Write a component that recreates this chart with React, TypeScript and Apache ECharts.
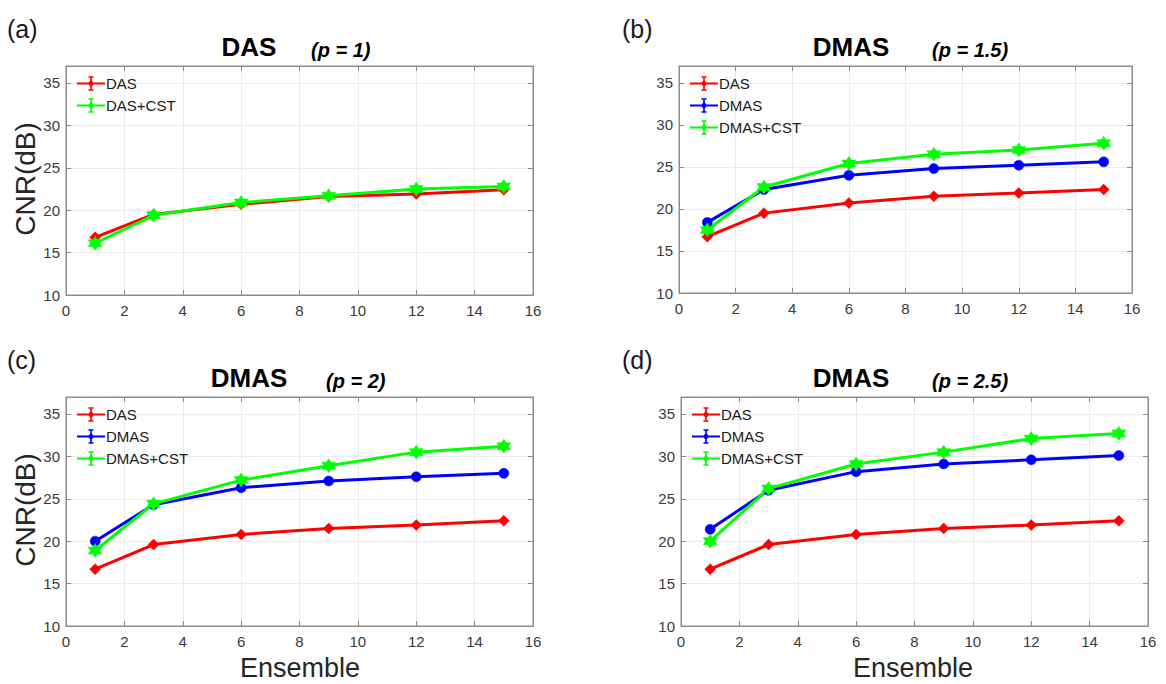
import React, { useEffect, useRef } from "react";
import * as echarts from "echarts";

const ensemble = [1, 3, 6, 9, 12, 15];

const dasA = [16.8, 19.5, 20.7, 21.6, 21.9, 22.4];
const dasCstA = [16.1, 19.4, 20.9, 21.7, 22.5, 22.8];

const dasB = [16.7, 19.5, 20.7, 21.5, 21.9, 22.3];
const dmasB = [18.4, 22.3, 24.0, 24.8, 25.2, 25.6];
const dmasCstB = [17.5, 22.6, 25.4, 26.5, 27.0, 27.8];

const dasC = [16.7, 19.6, 20.8, 21.5, 21.9, 22.4];
const dmasC = [20.0, 24.3, 26.3, 27.1, 27.6, 28.0];
const dmasCstC = [18.9, 24.4, 27.2, 28.9, 30.5, 31.2];

const dasD = [16.7, 19.6, 20.8, 21.5, 21.9, 22.4];
const dmasD = [21.4, 26.0, 28.2, 29.1, 29.6, 30.1];
const dmasCstD = [20.0, 26.2, 29.1, 30.5, 32.1, 32.7];

const panelLabels = ["(a)", "(b)", "(c)", "(d)"];
const methodTitles = ["DAS", "DMAS", "DMAS", "DMAS"];
const pTitles = ["(p = 1)", "(p = 1.5)", "(p = 2)", "(p = 2.5)"];
const yAxisName = "CNR(dB)";
const xAxisName = "Ensemble";

const FONT = "'Liberation Sans', Arial, Helvetica, sans-serif";

const ICON =
  "path://M0,6.8 H30 V9.2 H0 Z M14.1,1 H15.9 V15 H14.1 Z M12.3,0.2 H17.7 V1.8 H12.3 Z M12.3,14.2 H17.7 V15.8 H12.3 Z M15,4 L18.5,8 L15,12 L11.5,8 Z";
const HEX = "path://M0,-10 L8.66,5 L-8.66,5 Z M0,10 L-8.66,-5 L8.66,-5 Z";

const RED = "#ff0000";
const BLUE = "#0000ff";
const GREEN = "#00ff00";

type Panel = {
  grid: { left: number; top: number; width: number; height: number };
  series: { name: string; data: number[]; color: string; symbol: string; size: number }[];
};

const panels: Panel[] = [
  {
    grid: { left: 66, top: 66, width: 467, height: 229 },
    series: [
      { name: "DAS", data: dasA, color: RED, symbol: "diamond", size: 11 },
      { name: "DAS+CST", data: dasCstA, color: GREEN, symbol: HEX, size: 14 },
    ],
  },
  {
    grid: { left: 679, top: 66, width: 453, height: 227 },
    series: [
      { name: "DAS", data: dasB, color: RED, symbol: "diamond", size: 11 },
      { name: "DMAS", data: dmasB, color: BLUE, symbol: "circle", size: 10 },
      { name: "DMAS+CST", data: dmasCstB, color: GREEN, symbol: HEX, size: 14 },
    ],
  },
  {
    grid: { left: 66, top: 397, width: 467, height: 229 },
    series: [
      { name: "DAS", data: dasC, color: RED, symbol: "diamond", size: 11 },
      { name: "DMAS", data: dmasC, color: BLUE, symbol: "circle", size: 10 },
      { name: "DMAS+CST", data: dmasCstC, color: GREEN, symbol: HEX, size: 14 },
    ],
  },
  {
    grid: { left: 681, top: 397, width: 467, height: 229 },
    series: [
      { name: "DAS", data: dasD, color: RED, symbol: "diamond", size: 11 },
      { name: "DMAS", data: dmasD, color: BLUE, symbol: "circle", size: 10 },
      { name: "DMAS+CST", data: dmasCstD, color: GREEN, symbol: HEX, size: 14 },
    ],
  },
];

function buildOption() {
  const grids: any[] = [];
  const xAxes: any[] = [];
  const yAxes: any[] = [];
  const series: any[] = [];
  const legends: any[] = [];
  const graphics: any[] = [];

  const axisLineColor = "#8c8c8c";
  const labelColor = "#3a3a3a";
  const splitColor = "#ebebeb";

  panels.forEach((p, i) => {
    grids.push({
      left: p.grid.left,
      top: p.grid.top,
      width: p.grid.width,
      height: p.grid.height,
      show: true,
      borderColor: axisLineColor,
      borderWidth: 1,
      backgroundColor: "#ffffff",
      containLabel: false,
    });
    const xb = xAxes.length;
    xAxes.push({
      type: "value",
      gridIndex: i,
      min: 0,
      max: 16,
      interval: 2,
      position: "bottom",
      axisLine: { show: true, onZero: false, lineStyle: { color: axisLineColor, width: 1 } },
      axisTick: { show: true, inside: true, length: 5, lineStyle: { color: axisLineColor } },
      axisLabel: { color: labelColor, fontSize: 15, fontFamily: FONT, margin: 8 },
      splitLine: { show: true, lineStyle: { color: splitColor, width: 1 } },
    });
    xAxes.push({
      type: "value",
      gridIndex: i,
      min: 0,
      max: 16,
      interval: 2,
      position: "top",
      axisLine: { show: true, onZero: false, lineStyle: { color: axisLineColor, width: 1 } },
      axisTick: { show: true, inside: true, length: 5, lineStyle: { color: axisLineColor } },
      axisLabel: { show: false },
      splitLine: { show: false },
    });
    const yb = yAxes.length;
    yAxes.push({
      type: "value",
      gridIndex: i,
      min: 10,
      max: 37,
      interval: 5,
      position: "left",
      axisLine: { show: true, onZero: false, lineStyle: { color: axisLineColor, width: 1 } },
      axisTick: { show: true, inside: true, length: 5, lineStyle: { color: axisLineColor } },
      axisLabel: { color: labelColor, fontSize: 15, fontFamily: FONT, margin: 6, showMaxLabel: false },
      splitLine: { show: true, lineStyle: { color: splitColor, width: 1 } },
    });
    yAxes.push({
      type: "value",
      gridIndex: i,
      min: 10,
      max: 37,
      interval: 5,
      position: "right",
      axisLine: { show: true, onZero: false, lineStyle: { color: axisLineColor, width: 1 } },
      axisTick: { show: true, inside: true, length: 5, lineStyle: { color: axisLineColor } },
      axisLabel: { show: false },
      splitLine: { show: false },
    });

    const legendData: any[] = [];
    p.series.forEach((s) => {
      const id = `${s.name}-${i}`;
      series.push({
        id,
        name: s.name,
        type: "line",
        xAxisIndex: xb,
        yAxisIndex: yb,
        data: ensemble.map((x, k) => [x, s.data[k]]),
        symbol: s.symbol,
        symbolSize: s.size,
        showSymbol: true,
        lineStyle: { color: s.color, width: 3 },
        itemStyle: { color: s.color, borderColor: s.color, borderWidth: 0.5 },
        z: 3,
      });
      legendData.push({
        name: s.name,
        icon: ICON,
        itemStyle: { color: s.color, borderWidth: 0 },
        lineStyle: { width: 0 },
      });
    });

    legends.push({
      show: true,
      orient: "vertical",
      left: p.grid.left + 11,
      top: p.grid.top + 10,
      itemWidth: 28,
      itemHeight: 15,
      itemGap: 7,
      padding: 0,
      data: legendData,
      textStyle: { color: "#1a1a1a", fontSize: 15, fontFamily: FONT, padding: [0, 0, 0, -4] },
      selectedMode: false,
    });

    const row = i < 2 ? 0 : 1;
    const col = i % 2;
    const dy = row * 331;

    graphics.push({
      type: "text",
      left: col === 0 ? 7 : 622,
      top: 16 + dy,
      style: { text: panelLabels[i], fontSize: 25, fontFamily: FONT, fill: "#1a1a1a" },
    });
    const titleX = col === 0 ? 249 : 851;
    graphics.push({
      type: "text",
      x: titleX,
      y: 47 + dy,
      style: {
        text: methodTitles[i],
        fontSize: 26,
        fontWeight: "bold",
        fontFamily: FONT,
        fill: "#000000",
        textAlign: "center",
        textVerticalAlign: "middle",
      },
    });
    const pX = col === 0 ? (i === 0 ? 311 : 326) : 932;
    graphics.push({
      type: "text",
      x: pX,
      y: 50 + dy,
      style: {
        text: pTitles[i],
        fontSize: 20,
        fontWeight: "bold",
        fontStyle: "italic",
        fontFamily: FONT,
        fill: "#000000",
        textAlign: "left",
        textVerticalAlign: "middle",
      },
    });
    if (col === 0) {
      graphics.push({
        type: "text",
        x: 25,
        y: 179 + dy,
        rotation: Math.PI / 2,
        style: {
          text: yAxisName,
          fontSize: 28,
          fontFamily: FONT,
          fill: "#262626",
          textAlign: "center",
          textVerticalAlign: "middle",
        },
      });
    }
    if (row === 1) {
      graphics.push({
        type: "text",
        x: col === 0 ? 300 : 913,
        y: 668,
        style: {
          text: xAxisName,
          fontSize: 27,
          fontFamily: FONT,
          fill: "#262626",
          textAlign: "center",
          textVerticalAlign: "middle",
        },
      });
    }
  });

  return {
    animation: false,
    backgroundColor: "#ffffff",
    grid: grids,
    xAxis: xAxes,
    yAxis: yAxes,
    legend: legends,
    series,
    graphic: graphics,
  };
}

export default function App() {
  const ref = useRef<HTMLDivElement>(null);
  useEffect(() => {
    if (!ref.current) return;
    const chart = echarts.init(ref.current, undefined, { renderer: "svg" });
    chart.setOption(buildOption());
    return () => chart.dispose();
  }, []);
  return (
    <div
      ref={ref}
      style={{ position: "fixed", left: 0, top: 0, width: 1166, height: 684, background: "#fff" }}
    />
  );
}
